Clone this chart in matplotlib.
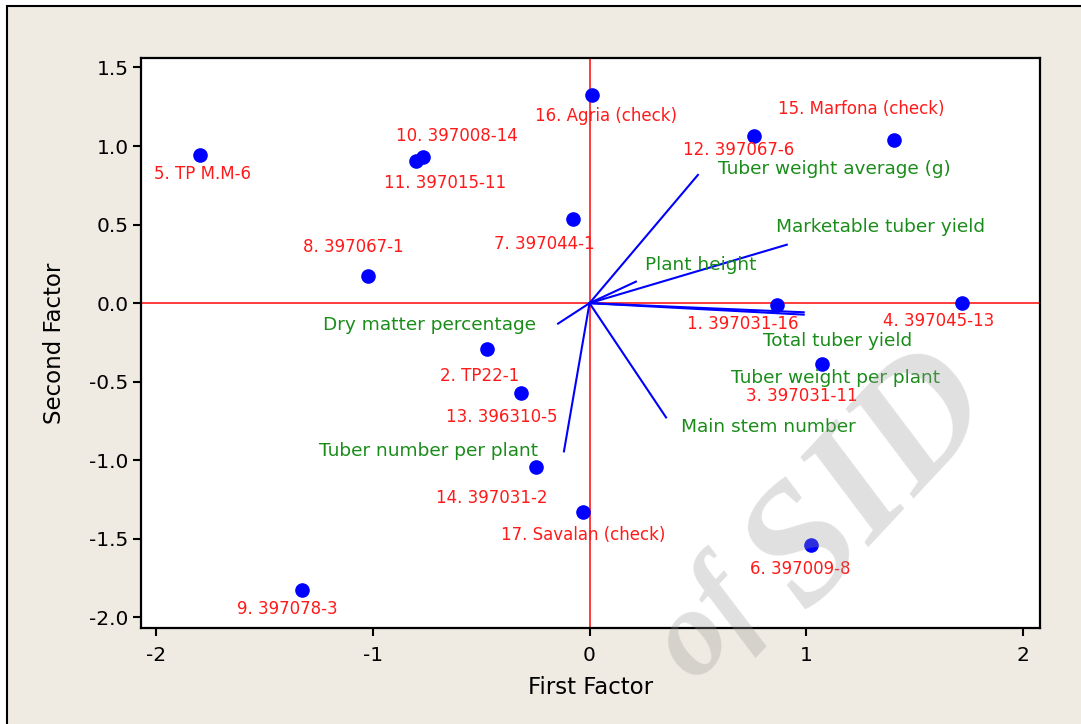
import matplotlib
matplotlib.use("Agg")
import matplotlib.pyplot as plt
from matplotlib.patches import Rectangle

plt.rcParams['font.family'] = ['DejaVu Sans']

# ---------------- data ----------------
genotypes = ["1. 397031-16", "2. TP22-1", "3. 397031-11", "4. 397045-13",
             "5. TP M.M-6", "6. 397009-8", "7. 397044-1", "8. 397067-1",
             "9. 397078-3", "10. 397008-14", "11. 397015-11", "12. 397067-6",
             "13. 396310-5", "14. 397031-2", "15. Marfona (check)",
             "16. Agria (check)", "17. Savalan (check)"]
factor1 = [0.864, -0.472, 1.071, 1.716, -1.795, 1.021, -0.076, -1.021,
           -1.325, -0.767, -0.799, 0.758, -0.316, -0.247, 1.403, 0.012, -0.030]
factor2 = [-0.010, -0.289, -0.384, 0.003, 0.943, -1.541, 0.537, 0.175,
           -1.827, 0.931, 0.905, 1.064, -0.569, -1.045, 1.039, 1.325, -1.331]

traits = ["Tuber weight average (g)", "Marketable tuber yield", "Plant height",
          "Total tuber yield", "Tuber weight per plant", "Main stem number",
          "Dry matter percentage", "Tuber number per plant"]
load1 = [0.500, 0.910, 0.214, 0.988, 0.988, 0.353, -0.145, -0.118]
load2 = [0.816, 0.372, 0.137, -0.058, -0.073, -0.727, -0.130, -0.943]

xticks = [-2, -1, 0, 1, 2]
yticks = [-2.0, -1.5, -1.0, -0.5, 0.0, 0.5, 1.0, 1.5]

# ---------------- layout (label offsets in pixels) ----------------
geno_offsets = [(-34, -19), (-8, -27), (-20, -32), (-23, -18), (2, -19),
                (-11, -24), (-29, -25), (-15, 29), (-15, -19), (34, 21),
                (29, -22), (-15, -14), (-19, -24), (-44, -31), (-32, 31),
                (14, -21), (0, -23)]
trait_offsets = [(136, 6), (94, 18), (65, 17), (34, -29), (32, -63),
                 (102, -10), (-129, -1), (-135, 0)]

W, H = 1081, 724
fig = plt.figure(figsize=(W / 100, H / 100), dpi=100, facecolor='white')

# beige outer panel with black frame
fig.add_artist(Rectangle((7 / W, -0.1), 1.2, 1.1 - 6 / H,
                         transform=fig.transFigure, facecolor='#efebe2',
                         edgecolor='black', linewidth=1.5, zorder=-1))

ax = fig.add_axes([141 / W, (H - 628) / H, (1040 - 141) / W, (628 - 58) / H])
ax.set_facecolor('white')
ax.set_xlim(-2.069, 2.078)
ax.set_ylim(-2.067, 1.560)

for sp in ax.spines.values():
    sp.set_linewidth(1.6)
    sp.set_color('black')

ax.axhline(0, color='#ff1a1a', lw=1.2, zorder=1)
ax.axvline(0, color='#ff1a1a', lw=1.2, zorder=1)

# loading vectors
for dx, dy in zip(load1, load2):
    ax.plot([0, dx], [0, dy], color='#0000ff', lw=1.5, zorder=2)

for name, dx, dy, off in zip(traits, load1, load2, trait_offsets):
    ax.annotate(name, (dx, dy), xytext=off, textcoords='offset pixels',
                ha='center', va='center', color='#1a8c1a', fontsize=13.3,
                zorder=4)

# genotype scores
ax.plot(factor1, factor2, 'o', color='#0000ff', ms=9.5, mec='#0000ff',
        zorder=3, linestyle='none')
for name, x, y, off in zip(genotypes, factor1, factor2, geno_offsets):
    ax.annotate(name, (x, y), xytext=off, textcoords='offset pixels',
                ha='center', va='center', color='#ff1a1a', fontsize=12,
                zorder=4)

ax.set_xticks(xticks)
ax.set_xticklabels([str(t) for t in xticks])
ax.set_yticks(yticks)
ax.set_yticklabels([f"{t:.1f}" for t in yticks])
ax.tick_params(direction='out', length=6, width=1.5, labelsize=14.5,
               colors='black')
ax.tick_params(axis='x', pad=7)
ax.tick_params(axis='y', pad=3)

ax.set_xlabel("First Factor", fontsize=16.5, labelpad=8)
ax.set_ylabel("Second Factor", fontsize=16.5, labelpad=17)

# source watermark
wm = dict(color='#999999', alpha=0.3, fontfamily='Liberation Serif',
          fontweight='bold', fontstyle='italic', rotation=47,
          ha='center', va='center', zorder=10)
fig.text(872 / W, 1 - 480 / H, "SID", fontsize=122, **wm)
fig.text(708 / W, 1 - 625 / H, "of", fontsize=88, **wm)

fig.savefig("out.png", dpi=100, facecolor=fig.get_facecolor())
